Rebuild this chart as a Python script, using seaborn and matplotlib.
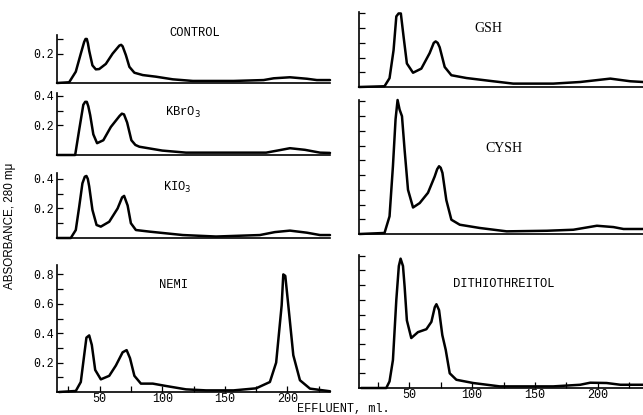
import matplotlib
matplotlib.use("Agg")
import matplotlib.pyplot as plt
import pandas as pd
import seaborn as sns

# ---------------- data (effluent ml, absorbance at 280 mu) ----------------
control_ml = [16, 25.7, 31, 35, 37.7, 38.8, 39.8, 40.7, 41.7, 44.3, 47, 49.7, 55, 60.4, 65.8, 67.2, 68.4, 71, 73.8,
              77.8, 84.5, 95, 108.5, 124.5, 157, 181, 189, 202, 215.5, 223.5, 234]
control_abs = [0.0, 0.005, 0.077, 0.20, 0.28, 0.30, 0.30, 0.27, 0.22, 0.12, 0.093, 0.095, 0.13, 0.20, 0.255, 0.26, 0.25, 0.19, 0.11,
               0.07, 0.054, 0.043, 0.025, 0.014, 0.014, 0.02, 0.032, 0.039, 0.029, 0.02, 0.02]

kbro3_ml = [16, 30.5, 33.7, 37, 38.5, 39.8, 41, 42.5, 45, 48, 53, 59, 66, 67.8, 69.5, 72, 75.4, 78.6, 81.8, 100, 119,
            150, 183, 192, 202, 214, 226, 234]
kbro3_abs = [0.0, 0.0, 0.17, 0.34, 0.36, 0.36, 0.33, 0.27, 0.14, 0.08, 0.10, 0.19, 0.265, 0.28, 0.275, 0.22, 0.10, 0.068, 0.056,
             0.03, 0.016, 0.016, 0.016, 0.03, 0.046, 0.035, 0.016, 0.014]

kio3_ml = [16, 27, 31, 33.7, 36.3, 38.2, 39.5, 40.6, 41.7, 44.3, 47.6, 51, 57.7, 64.4, 68, 69.6, 72.4, 75, 79, 90,
           116.5, 143, 178, 190, 202, 215.5, 226, 234]
kio3_abs = [0.0, 0.0, 0.054, 0.21, 0.37, 0.415, 0.42, 0.40, 0.35, 0.19, 0.088, 0.077, 0.11, 0.20, 0.275, 0.285, 0.22, 0.10, 0.054, 0.043,
            0.02, 0.01, 0.02, 0.04, 0.05, 0.036, 0.02, 0.02]

nemi_ml = [17.6, 31, 35, 37.7, 39.5, 41.7, 43.8, 46.5, 51, 57.7, 63, 68.4, 71.6, 74.3, 77.8, 83, 92.5,
           103, 119, 135, 157, 175, 186, 191, 195.4, 196.7, 198.3, 200.7, 204.7, 210, 218, 234]
nemi_abs = [0.0, 0.007, 0.068, 0.25, 0.37, 0.385, 0.32, 0.15, 0.086, 0.11, 0.18, 0.27, 0.285, 0.23, 0.11, 0.057, 0.057,
            0.041, 0.018, 0.011, 0.011, 0.025, 0.068, 0.20, 0.59, 0.80, 0.79, 0.59, 0.25, 0.08, 0.023, 0.005]

gsh_ml = [10, 30.3, 34.3, 37.5, 39.7, 41.5, 43.3, 45.5, 48.1, 53, 59.6, 66.2, 69.5, 71, 72.6, 74.2, 78.2, 83.5,
          95.5, 116.8, 132.7, 164.6, 186, 210, 225.9, 236]
gsh_abs = [0.0, 0.005, 0.06, 0.25, 0.48, 0.50, 0.50, 0.34, 0.16, 0.097, 0.125, 0.23, 0.30, 0.31, 0.30, 0.27, 0.136, 0.08,
           0.061, 0.039, 0.023, 0.023, 0.034, 0.057, 0.039, 0.034]

cysh_ml = [10.4, 30.3, 34.3, 37, 39.1, 40.7, 42.3, 44.2, 46.3, 49, 53, 58.3, 64.9, 70.2, 72.2, 73.7, 75, 76.4,
           79.5, 83.5, 90.2, 106, 127.5, 159.4, 180.6, 199.3, 212.5, 220.5, 236]
cysh_abs = [0.0, 0.007, 0.12, 0.46, 0.78, 0.91, 0.845, 0.80, 0.57, 0.30, 0.18, 0.21, 0.28, 0.39, 0.44, 0.46, 0.45, 0.415,
            0.23, 0.097, 0.063, 0.041, 0.018, 0.022, 0.029, 0.056, 0.047, 0.034, 0.034]

dtt_ml = [11.7, 31.7, 34.3, 37, 39.7, 41.7, 43.1, 45, 46.3, 48.1, 51.6, 56.9, 63.6, 67.6, 70.3, 71.6, 73.7,
          76.3, 79, 82.2, 87.5, 100.8, 122, 164.6, 186, 194, 207, 218, 236]
dtt_abs = [0.0, 0.0, 0.045, 0.19, 0.60, 0.83, 0.88, 0.83, 0.69, 0.46, 0.34, 0.38, 0.40, 0.45, 0.55, 0.57, 0.53,
           0.36, 0.26, 0.10, 0.056, 0.034, 0.011, 0.011, 0.022, 0.036, 0.034, 0.022, 0.022]

panel_names = ["CONTROL", "KBrO$_3$", "KIO$_3$", "NEMI", "GSH", "CYSH", "DITHIOTHREITOL"]
x_ticks = [25, 50, 75, 100, 125, 150, 175, 200, 225]
x_tick_labels = ["", "50", "", "100", "", "150", "", "200", ""]

# ---------------- style ----------------
sns.set_style("ticks")
plt.rcParams["font.family"] = ["Liberation Mono", "DejaVu Sans Mono"]

W, H = 643, 415
fig = plt.figure(figsize=(W / 100, H / 100), dpi=100)


def px_axes(x0, x1, ybot, ytop):
    return fig.add_axes([x0 / W, 1 - ybot / H, (x1 - x0) / W, (ybot - ytop) / H])


mono = ["Liberation Mono", "DejaVu Sans Mono"]
serif = ["Liberation Serif", "DejaVu Serif"]

panels = [
    (panel_names[0], control_ml, control_abs, (57, 330, 83, 35), (16, 234), 0.327,
     [0.2, 0.3], ["0.2", ""], False, (195, 33), mono, 8.7),
    (panel_names[1], kbro3_ml, kbro3_abs, (57, 330, 155, 93), (16, 234), 0.42,
     [0.2, 0.3, 0.4], ["0.2", "", "0.4"], False, (183, 112), mono, 8.7),
    (panel_names[2], kio3_ml, kio3_abs, (57, 330, 238, 173), (16, 234), 0.44,
     [0.1, 0.2, 0.3, 0.4], ["", "0.2", "", "0.4"], False, (177, 187), mono, 8.7),
    (panel_names[3], nemi_ml, nemi_abs, (57, 330, 392, 265), (16, 234), 0.864,
     [0.1, 0.2, 0.3, 0.4, 0.5, 0.6, 0.7, 0.8], ["", "0.2", "", "0.4", "", "0.6", "", "0.8"], True, (174, 285), mono, 8.7),
    (panel_names[4], gsh_ml, gsh_abs, (359, 643, 87, 12), (10, 236), 0.51,
     [0.1, 0.2, 0.3, 0.4, 0.5], None, False, (488, 28), serif, 10),
    (panel_names[5], cysh_ml, cysh_abs, (359, 643, 234, 100), (10, 236), 0.91,
     [0.1, 0.2, 0.3, 0.4, 0.5, 0.6, 0.7, 0.8, 0.9], None, False, (504, 149), serif, 10),
    (panel_names[6], dtt_ml, dtt_abs, (359, 643, 388, 255), (10, 236), 0.905,
     [0.1, 0.2, 0.3, 0.4, 0.5, 0.6, 0.7, 0.8, 0.9], None, True, (504, 284), mono, 8.7),
]

for name, ml, ab, box, xlim, ytop, yt, ylab, bottom, lpos, lfont, lsize in panels:
    ax = px_axes(*box)
    df = pd.DataFrame({"ml": ml, "abs": ab})
    sns.lineplot(data=df, x="ml", y="abs", ax=ax, color="black", linewidth=1.8,
                 sort=False, estimator=None, clip_on=False)
    ax.set_xlim(*xlim)
    ax.set_ylim(0, ytop)
    ax.set_xlabel("")
    ax.set_ylabel("")
    ax.patch.set_alpha(0)
    for s in ["top", "right"]:
        ax.spines[s].set_visible(False)
    for s in ["left", "bottom"]:
        ax.spines[s].set_linewidth(1.2)
        ax.spines[s].set_color("black")
    ax.set_yticks(yt)
    if ylab is None:
        ax.set_yticklabels([])
    else:
        ax.set_yticklabels(ylab)
    ax.tick_params(axis="y", direction="in", length=4, width=0.9, pad=2,
                   labelsize=8.3, colors="black")
    if bottom:
        ax.set_xticks(x_ticks)
        ax.set_xticklabels(x_tick_labels)
        ax.tick_params(axis="x", direction="in", length=4, width=0.9, pad=1,
                       labelsize=8.5, colors="black")
    else:
        ax.set_xticks([])
    fig.text(lpos[0] / W, 1 - lpos[1] / H, name, ha="center", va="center",
             fontsize=lsize, family=lfont, color="black")

fig.text(10 / W, 1 - 226 / H, "ABSORBANCE, 280 m\u03bc", rotation=90, ha="center", va="center",
         fontsize=8.4, family=["Liberation Sans", "DejaVu Sans"], color="black")
fig.text(343 / W, 1 - 409 / H, "EFFLUENT, ml.", ha="center", va="center",
         fontsize=8.6, family=mono, color="black")

fig.savefig("out.png", dpi=100, facecolor="white")
